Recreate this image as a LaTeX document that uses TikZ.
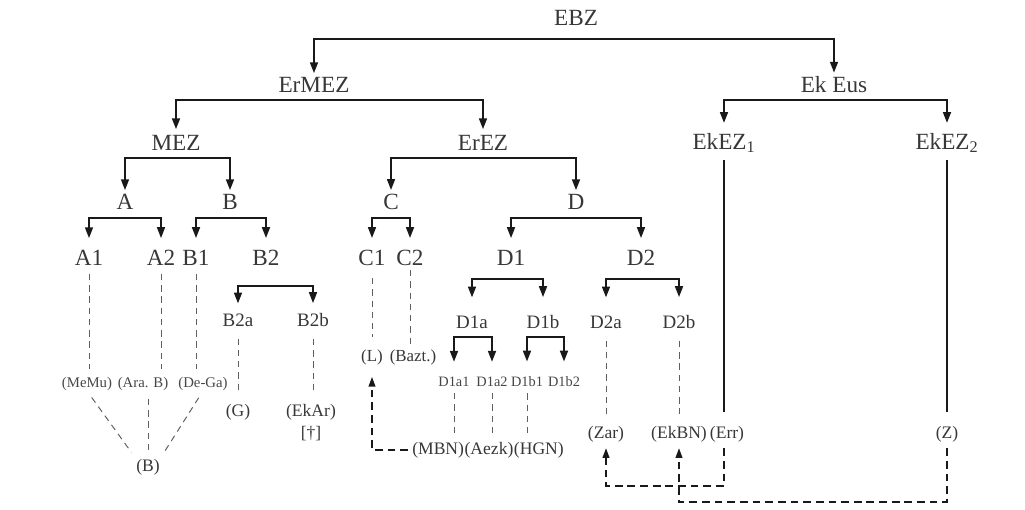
\documentclass[tikz,border=0pt]{standalone}
\usepackage{fontspec}
\setmainfont{Liberation Serif}
\usepackage{tikz}
\usetikzlibrary{calc,positioning,arrows.meta}
\usepackage{xcolor}
\definecolor{mytext}{RGB}{55,55,55}
\definecolor{mylight}{RGB}{70,70,70}
\definecolor{myline}{RGB}{25,25,25}
\definecolor{mydash}{RGB}{95,95,95}

\begin{document}
\begin{tikzpicture}[x=0.025cm, y=-0.025cm,
  lbl/.style={inner sep=0pt, text=mytext, font=\fontsize{16.5}{18}\selectfont},
  mid/.style={inner sep=0pt, text=mytext, font=\fontsize{13.5}{15}\selectfont},
  sml/.style={inner sep=0pt, text=mylight, font=\fontsize{10.2}{12}\selectfont},
  src/.style={inner sep=0pt, text=mytext, font=\fontsize{12.5}{14}\selectfont},
  fork/.style={{Triangle[length=0.27cm,width=0.2cm]}-{Triangle[length=0.27cm,width=0.2cm]},
    line width=1.15pt, draw=myline, shorten <=#1, shorten >=#1},
  fork/.default=0.1cm,
  trace/.style={draw=mydash, line width=0.7pt, dash pattern=on 4.5pt off 3.5pt,
    shorten <=#1, shorten >=#1},
  trace/.default=0.2cm,
  link/.style={-{Triangle[length=0.24cm,width=0.17cm]}, draw=myline,
    line width=0.95pt, dash pattern=on 5.5pt off 3.5pt}]
  \useasboundingbox (0,0) rectangle (1025,509);

  % Top levels
  \node[lbl] (ebz) at (576,18) {EBZ};
  \node[lbl] (ermez) at (314,85) {ErMEZ};
  \node[lbl] (ekeus) at (834,85) {Ek Eus};
  \node[lbl] (mez) at (176,143) {MEZ};
  \node[lbl] (erez) at (483,143) {ErEZ};
  \node[lbl] (ekez1) at (724,143) {EkEZ\textsubscript{1}};
  \node[lbl] (ekez2) at (947,143) {EkEZ\textsubscript{2}};
  \node[lbl] (a) at (125,202) {A};
  \node[lbl] (b) at (230,202) {B};
  \node[lbl] (c) at (391,202) {C};
  \node[lbl] (d) at (576,202) {D};
  \node[lbl] (a1) at (89,258) {A1};
  \node[lbl] (a2) at (161,258) {A2};
  \node[lbl] (b1) at (196,258) {B1};
  \node[lbl] (b2) at (266,258) {B2};
  \node[lbl] (c1) at (372,258) {C1};
  \node[lbl] (c2) at (410,258) {C2};
  \node[lbl] (d1) at (511,258) {D1};
  \node[lbl] (d2) at (641,258) {D2};

  % Lower levels
  \node[mid] (b2a) at (238,320) {B2a};
  \node[mid] (b2b) at (313,320) {B2b};
  \node[mid] (d1a) at (472,322) {D1a};
  \node[mid] (d1b) at (543,322) {D1b};
  \node[mid] (d2a) at (606,322) {D2a};
  \node[mid] (d2b) at (679,322) {D2b};
  \node[sml] (d1a1) at (454,382) {D1a1};
  \node[sml] (d1a2) at (492,382) {D1a2};
  \node[sml] (d1b1) at (527,382) {D1b1};
  \node[sml] (d1b2) at (564,382) {D1b2};

  % Sources
  \node[sml, font=\fontsize{10.5}{12}\selectfont] (memu) at (87,384) {(MeMu)};
  \node[sml, font=\fontsize{10.5}{12}\selectfont] (arab) at (143,384) {(Ara. B)};
  \node[sml, font=\fontsize{10.5}{12}\selectfont] (dega) at (203,384) {(De-Ga)};
  \node[src] (bn) at (148,467) {(B)};
  \node[src] (g) at (238,412) {(G)};
  \node[src] (ekar) at (311,412) {(EkAr)};
  \node[src] (dag) at (311,434) {[†]};
  \node[src, font=\fontsize{12}{14}\selectfont] (l) at (372,357) {(L)};
  \node[src, font=\fontsize{12}{14}\selectfont] (bazt) at (413,357) {(Bazt.)};
  \node[src, anchor=west] (mbn) at (412,450) {(MBN)};
  \node[src, right=0pt of mbn] (aezk) {(Aezk)};
  \node[src, right=0pt of aezk] (hgn) {(HGN)};
  \node[src] (zar) at (606,434) {(Zar)};
  \node[src] (ekbn) at (679,434) {(EkBN)};
  \node[src] (err) at (727,434) {(Err)};
  \node[src] (z) at (947,434) {(Z)};
  \coordinate (lowA) at (0,486);
  \coordinate (lowB) at (0,502);

  % Forks
  \draw[fork] (ermez.north) |- ($(ebz)+(0,21)$) -| (ekeus.north);
  \draw[fork=0.15cm] (mez.north) |- ($(ermez)+(0,15)$) -| (erez.north);
  \draw[fork=0.25cm] (ekez1.north) |- ($(ekeus)+(0,15)$) -| (ekez2.north);
  \draw[fork] (a.north) |- ($(mez)+(0,15)$) -| (b.north);
  \draw[fork] (c.north) |- ($(erez)+(0,15)$) -| (d.north);
  \draw[fork=0.3cm] (a1.north) |- ($(a)+(0,16)$) -| (a2.north);
  \draw[fork=0.3cm] (b1.north) |- ($(b)+(0,16)$) -| (b2.north);
  \draw[fork=0.3cm] (c1.north) |- ($(c)+(0,16)$) -| (c2.north);
  \draw[fork=0.3cm] (d1.north) |- ($(d)+(0,16)$) -| (d2.north);
  \draw[fork=0.25cm] (b2a.north) |- ($(b2)+(0,28)$) -| (b2b.north);
  \draw[fork=0.45cm] (d1a.north) |- ($(d1)+(0,21)$) -| (d1b.north);
  \draw[fork=0.45cm] (d2a.north) |- ($(d2)+(0,21)$) -| (d2b.north);
  \draw[fork=0.38cm] (d1a1.north) |- ($(d1a)+(0,15)$) -| (d1a2.north);
  \draw[fork=0.38cm] (d1b1.north) |- ($(d1b)+(0,15)$) -| (d1b2.north);

  % Dashed traces
  \draw[trace] (a1.south) -- (a1.south |- memu.north);
  \draw[trace] (a2.south) -- (a2.south |- arab.north);
  \draw[trace] (b1.south) -- (b1.south |- dega.north);
  \draw[trace=0.3cm] (b2a.south) -- (g.north);
  \draw[trace=0.3cm] (b2b.south) -- (b2b.south |- ekar.north);
  \draw[trace=0.3cm] (c1.south) -- (c1.south |- l.north);
  \draw[trace=0.1cm] (c2.south) -- (c2.south |- bazt.north);
  \draw[trace=0.15cm] (d1a1.south) -- (d1a1.south |- mbn.north);
  \draw[trace=0.15cm] (d1a2.south) -- (d1a2.south |- aezk.north);
  \draw[trace=0.15cm] (d1b1.south) -- (d1b1.south |- hgn.north);
  \draw[trace=0.3cm] (d2a.south) -- (zar.north);
  \draw[trace=0.3cm] (d2b.south) -- (ekbn.north);
  \draw[trace] (memu.south) -- (bn.north west);
  \draw[trace] (bn.north |- arab.south) -- (bn.north);
  \draw[trace] (dega.south) -- (bn.north east);

  % Solid lines
  \draw[draw=myline, line width=0.9pt, shorten <=0.18cm, shorten >=0.35cm] (ekez1.south) -- (ekez1.south |- err.north);
  \draw[draw=myline, line width=0.9pt, shorten <=0.18cm, shorten >=0.35cm] (ekez2.south) -- (ekez2.south |- z.north);

  % Dashed links
  \draw[link, shorten <=0.1cm, shorten >=0.3cm] (mbn.west) -| (l.south);
  \draw[link, shorten <=0.15cm, shorten >=0.15cm] (ekez1.south |- err.south) -- (ekez1.south |- lowA) -| (zar.south);
  \draw[link, shorten <=0.15cm, shorten >=0.15cm] (z.south) -- (z.south |- lowB) -| (ekbn.south);
\end{tikzpicture}
\end{document}
